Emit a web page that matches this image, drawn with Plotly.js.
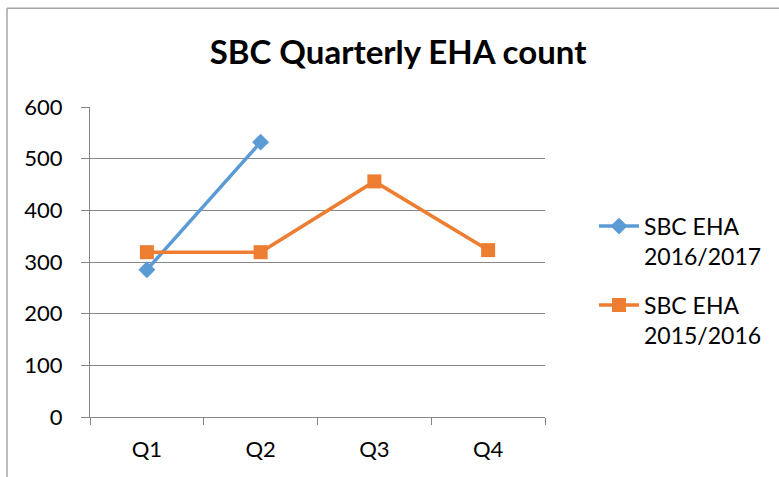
<!DOCTYPE html>
<html>
<head>
<meta charset="utf-8">
<script src="https://cdn.plot.ly/plotly-3.0.1.min.js"></script>
<style>body{margin:0;background:#fff;}#chart{width:779px;height:477px;}</style>
</head>
<body>
<div id="chart"></div>
<script>
const categories = ["Q1", "Q2", "Q3", "Q4"];
const series2016Name = "SBC EHA<br>2016/2017";
const series2016 = [285, 532, null, null];
const series2015Name = "SBC EHA<br>2015/2016";
const series2015 = [319, 319, 456, 323];
const yTicks = [0, 100, 200, 300, 400, 500, 600];

const FONT = "Lato, 'Open Sans', sans-serif";
const traces = [
  {x: categories, y: series2016, name: series2016Name, legendgroup: "a", type: "scatter", mode: "lines+markers",
   line: {color: "#5B9BD5", width: 3.5}, marker: {symbol: "diamond", size: 13, color: "#5B9BD5"}},
  {x: categories, y: series2015, name: series2015Name, legendgroup: "b", type: "scatter", mode: "lines+markers",
   line: {color: "#ED7D31", width: 3.5}, marker: {symbol: "square", size: 14, color: "#ED7D31"}}
];
const layout = {
  width: 779, height: 477,
  margin: {l: 90, r: 234, t: 106.7, b: 60.3},
  paper_bgcolor: "#fff", plot_bgcolor: "#fff",
  font: {family: FONT, color: "#000", size: 22},
  title: {text: "<b>SBC Quarterly EHA count</b>", font: {family: FONT, size: 33, color: "#000"},
          x: 0.511, xanchor: "center", y: 0.89, yanchor: "middle"},
  showlegend: true,
  legend: {x: 1.1077, y: 0.685, xanchor: "left", yanchor: "top", valign: "top",
           font: {family: FONT, size: 23, color: "#000"},
           tracegroupgap: 16, bgcolor: "rgba(0,0,0,0)", itemwidth: 40},
  xaxis: {type: "category", range: [-0.5, 3.5], tickson: "boundaries", ticks: "outside", ticklen: 7,
          tickcolor: "#868686", showline: true, linecolor: "#868686", linewidth: 1, showgrid: false,
          zeroline: false, tickfont: {family: FONT, size: 22, color: "#000"}, ticklabelstandoff: 13},
  yaxis: {range: [0, 600], tickvals: yTicks, ticks: "outside", ticklen: 8, tickcolor: "#868686",
          showline: true, linecolor: "#868686", linewidth: 1, showgrid: true, gridcolor: "#868686",
          gridwidth: 1, zeroline: false, tickfont: {family: FONT, size: 22, color: "#000"}, ticklabelstandoff: 14},
  shapes: [
    {type: "line", xref: "paper", yref: "paper", x0: -0.1824, x1: 1.52, y0: 1.3184, y1: 1.3184,
     line: {color: "#A6A6A6", width: 1.5}},
    {type: "line", xref: "paper", yref: "paper", x0: -0.1824, x1: -0.1824, y0: 1.3184, y1: -0.21,
     line: {color: "#A6A6A6", width: 1.5}}
  ]
};
Plotly.newPlot("chart", traces, layout, {displayModeBar: false, staticPlot: true});
</script>
</body>
</html>
